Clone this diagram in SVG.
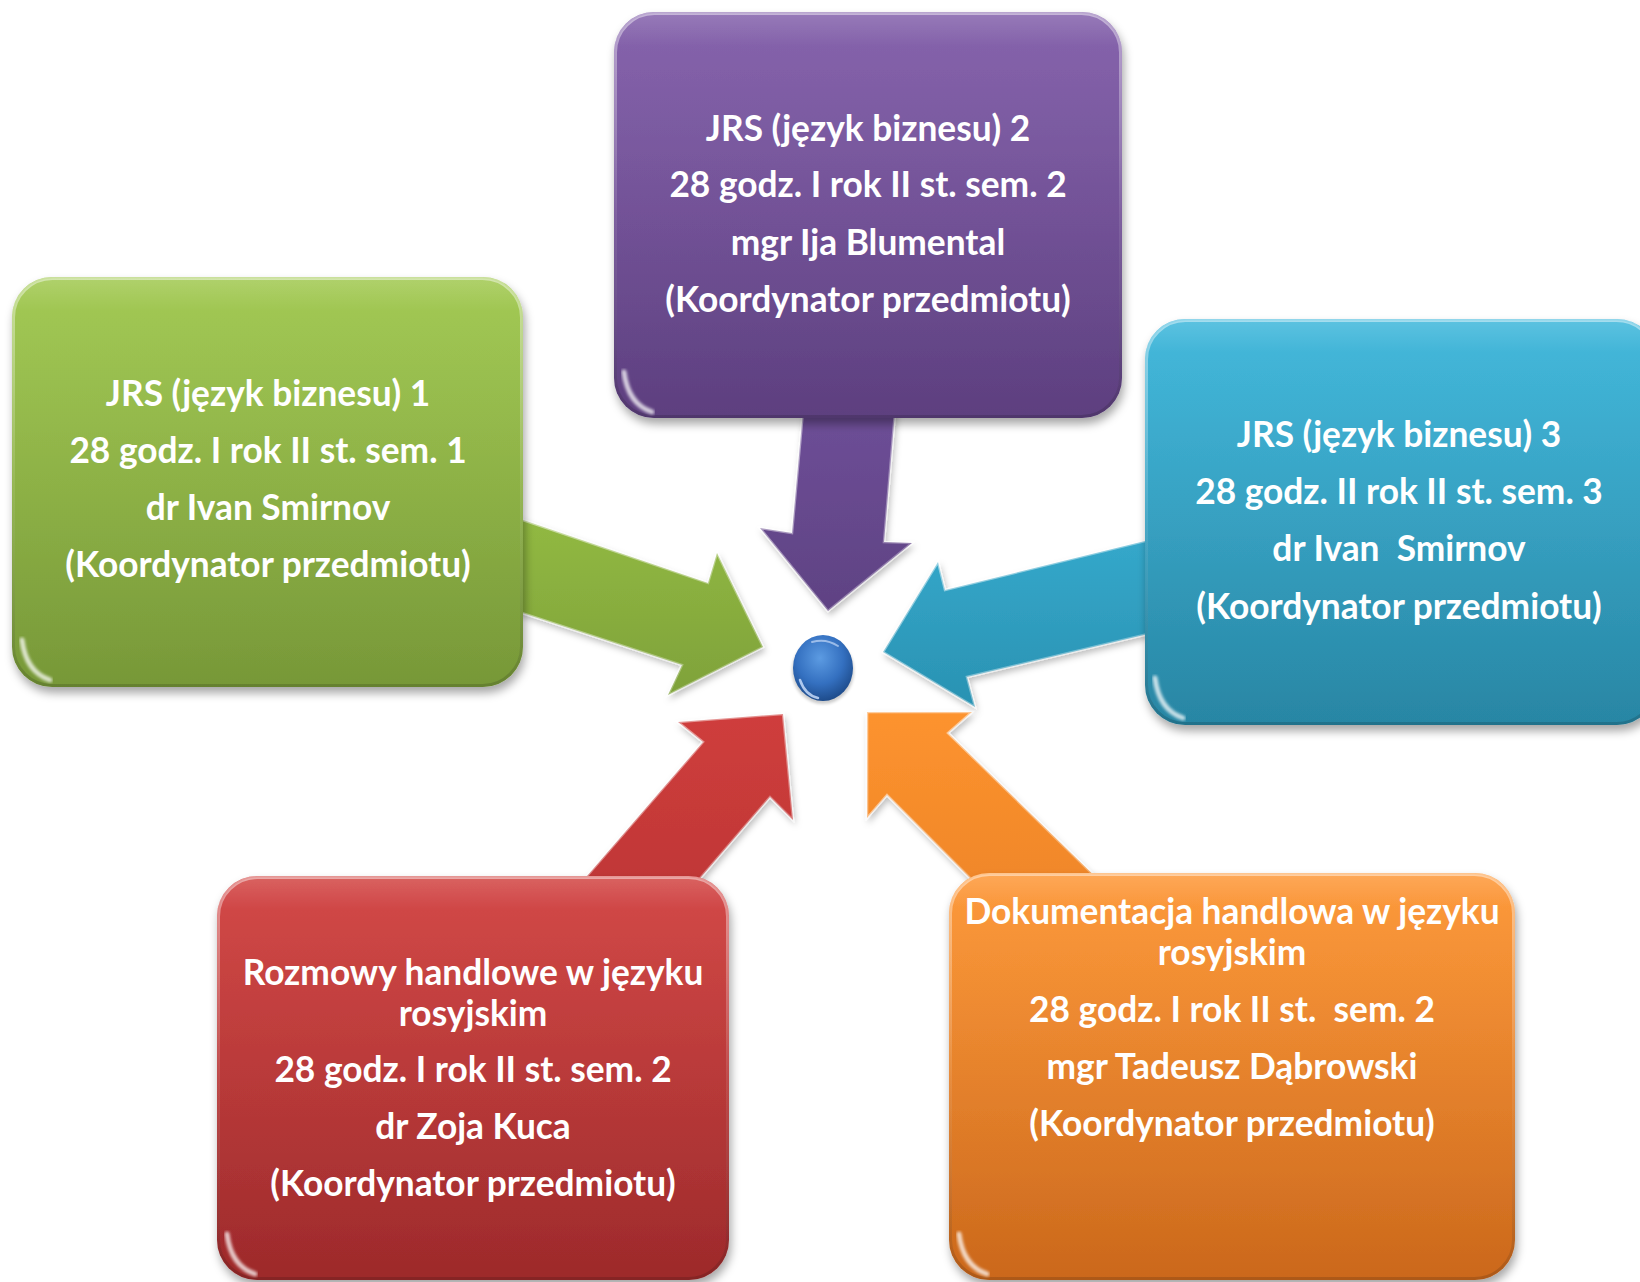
<svg xmlns="http://www.w3.org/2000/svg" width="1640" height="1282" viewBox="0 0 1640 1282">
<defs>
<style>
.t{font-family:Lato,"Open Sans","Liberation Sans",sans-serif;font-weight:700;font-size:35.3px;fill:#ffffff;text-anchor:middle;white-space:pre}
.gloss{fill:url(#gloss);stroke:url(#edge);stroke-width:3}
.arr{stroke:url(#aedge);stroke-width:2.5;stroke-linejoin:miter;filter:url(#ash)}
.box{filter:url(#sh)}
.hl{fill:none;stroke:#ffffff;stroke-width:5;stroke-linecap:round;opacity:0.75;filter:url(#blur)}
</style>
<filter id="sh" x="-10%" y="-10%" width="125%" height="125%">
<feDropShadow dx="2" dy="6" stdDeviation="5" flood-color="#000" flood-opacity="0.35"/>
</filter>
<filter id="ash" x="-20%" y="-20%" width="140%" height="140%">
<feDropShadow dx="2" dy="4" stdDeviation="3" flood-color="#000" flood-opacity="0.25"/>
</filter>
<filter id="blur"><feGaussianBlur stdDeviation="1.5"/></filter>
<linearGradient id="gloss" x1="0" y1="0" x2="0" y2="1">
<stop offset="0" stop-color="#fff" stop-opacity="0.18"/>
<stop offset="0.08" stop-color="#fff" stop-opacity="0.05"/>
<stop offset="1" stop-color="#fff" stop-opacity="0"/>
</linearGradient>
<linearGradient id="edge" x1="0" y1="0" x2="0" y2="1">
<stop offset="0" stop-color="#fff" stop-opacity="0.45"/>
<stop offset="0.5" stop-color="#fff" stop-opacity="0.1"/>
<stop offset="1" stop-color="#000" stop-opacity="0.15"/>
</linearGradient>
<linearGradient id="aedge" x1="0" y1="0" x2="1" y2="1">
<stop offset="0" stop-color="#fff" stop-opacity="0.55"/>
<stop offset="1" stop-color="#fff" stop-opacity="0.25"/>
</linearGradient>
<linearGradient id="gGreen" x1="0" y1="0" x2="0" y2="1"><stop offset="0" stop-color="#9ec74b"/><stop offset="1" stop-color="#779838"/></linearGradient>
<linearGradient id="gPurple" x1="0" y1="0" x2="0" y2="1"><stop offset="0" stop-color="#805ca9"/><stop offset="1" stop-color="#5d3f7f"/></linearGradient>
<linearGradient id="gCyan" x1="0" y1="0" x2="0" y2="1"><stop offset="0" stop-color="#39b5da"/><stop offset="1" stop-color="#2886a4"/></linearGradient>
<linearGradient id="gRed" x1="0" y1="0" x2="0" y2="1"><stop offset="0" stop-color="#d13f3d"/><stop offset="1" stop-color="#9d2a2b"/></linearGradient>
<linearGradient id="gOrange" x1="0" y1="0" x2="0" y2="1"><stop offset="0" stop-color="#fe9531"/><stop offset="1" stop-color="#cb681c"/></linearGradient>
<linearGradient id="aGreen" x1="0" y1="0" x2="0" y2="1"><stop offset="0" stop-color="#93bb43"/><stop offset="1" stop-color="#7fa23a"/></linearGradient>
<linearGradient id="aPurple" x1="0" y1="0" x2="0" y2="1"><stop offset="0" stop-color="#6e4f98"/><stop offset="1" stop-color="#5f4283"/></linearGradient>
<linearGradient id="aCyan" x1="0" y1="0" x2="0" y2="1"><stop offset="0" stop-color="#35a9cc"/><stop offset="1" stop-color="#2a92b2"/></linearGradient>
<linearGradient id="aRed" x1="0" y1="0" x2="0" y2="1"><stop offset="0" stop-color="#cf3e3c"/><stop offset="1" stop-color="#bf3636"/></linearGradient>
<linearGradient id="aOrange" x1="0" y1="0" x2="0" y2="1"><stop offset="0" stop-color="#fd932f"/><stop offset="1" stop-color="#ef8628"/></linearGradient>
<radialGradient id="ball" cx="0.45" cy="0.35" r="0.65">
<stop offset="0" stop-color="#5c9be2"/>
<stop offset="0.6" stop-color="#3470c0"/>
<stop offset="1" stop-color="#1e4c8c"/>
</radialGradient>
</defs>

<g id="connectors">
<polygon class="arr" fill="url(#aGreen)" points="470,502 708,583 717,553 763,647 668,695 682,665 470,596"/>
<polygon class="arr" fill="url(#aPurple)" points="804,400 896,400 884,542 912,543 828,611 760,528 792,533"/>
<polygon class="arr" fill="url(#aCyan)" points="1190,530 945,590 938,562 883,652 975,707 967,677 1190,624"/>
<polygon class="arr" fill="url(#aRed)" points="568,898 703,742 678,722 783,714 793,820 770,797 683,898"/>
<polygon class="arr" fill="url(#aOrange)" points="1112,893 948,733 972,712 867,712 867,818 887,795 989,897"/>
</g>

<g id="center">
<ellipse cx="823" cy="671" rx="31" ry="33" fill="#000" opacity="0.2" filter="url(#blur)"/>
<ellipse cx="823" cy="668" rx="30" ry="33" fill="url(#ball)"/>
<path d="M800,680 Q805,695 818,698" fill="none" stroke="#cfe2ff" stroke-width="2.5" opacity="0.8" stroke-linecap="round"/>
<path d="M812,642 Q826,638 838,646" fill="none" stroke="#d8e8ff" stroke-width="2" opacity="0.6" stroke-linecap="round"/>
</g>

<g id="node-green">
<rect class="box" x="12" y="277" width="511" height="410" rx="40" fill="url(#gGreen)"/>
<rect class="gloss" x="13.5" y="278.5" width="508" height="407" rx="39"/>
<path class="hl" d="M22,640 Q26,672 50,680"/>
<text class="t" x="268" y="406">JRS (język biznesu) 1</text>
<text class="t" x="268" y="463">28 godz. I rok II st. sem. 1</text>
<text class="t" x="268" y="520">dr Ivan Smirnov</text>
<text class="t" x="268" y="577">(Koordynator przedmiotu)</text>
</g>

<g id="node-purple">
<rect class="box" x="614" y="12" width="508" height="406" rx="40" fill="url(#gPurple)"/>
<rect class="gloss" x="615.5" y="13.5" width="505" height="403" rx="39"/>
<path class="hl" d="M624,372 Q628,404 652,412"/>
<text class="t" x="868" y="141">JRS (język biznesu) 2</text>
<text class="t" x="868" y="197">28 godz. I rok II st. sem. 2</text>
<text class="t" x="868" y="255">mgr Ija Blumental</text>
<text class="t" x="868" y="312">(Koordynator przedmiotu)</text>
</g>

<g id="node-cyan">
<rect class="box" x="1145" y="319" width="512" height="406" rx="40" fill="url(#gCyan)"/>
<rect class="gloss" x="1146.5" y="320.5" width="509" height="403" rx="39"/>
<path class="hl" d="M1155,678 Q1159,710 1183,718"/>
<text class="t" x="1399" y="447">JRS (język biznesu) 3</text>
<text class="t" x="1399" y="504">28 godz. II rok II st. sem. 3</text>
<text class="t" x="1399" y="561">dr Ivan  Smirnov</text>
<text class="t" x="1399" y="619">(Koordynator przedmiotu)</text>
</g>

<g id="node-red">
<rect class="box" x="217" y="876" width="512" height="404" rx="40" fill="url(#gRed)"/>
<rect class="gloss" x="218.5" y="877.5" width="509" height="401" rx="39"/>
<path class="hl" d="M227,1234 Q231,1266 255,1274"/>
<text class="t" x="473" y="985">Rozmowy handlowe w języku</text>
<text class="t" x="473" y="1026">rosyjskim</text>
<text class="t" x="473" y="1082">28 godz. I rok II st. sem. 2</text>
<text class="t" x="473" y="1139">dr Zoja Kuca</text>
<text class="t" x="473" y="1196">(Koordynator przedmiotu)</text>
</g>

<g id="node-orange">
<rect class="box" x="949" y="873" width="566" height="407" rx="40" fill="url(#gOrange)"/>
<rect class="gloss" x="950.5" y="874.5" width="563" height="404" rx="39"/>
<path class="hl" d="M959,1234 Q963,1266 987,1274"/>
<text class="t" x="1232" y="924">Dokumentacja handlowa w języku</text>
<text class="t" x="1232" y="965">rosyjskim</text>
<text class="t" x="1232" y="1022">28 godz. I rok II st.  sem. 2</text>
<text class="t" x="1232" y="1079">mgr Tadeusz Dąbrowski</text>
<text class="t" x="1232" y="1136">(Koordynator przedmiotu)</text>
</g>
</svg>
